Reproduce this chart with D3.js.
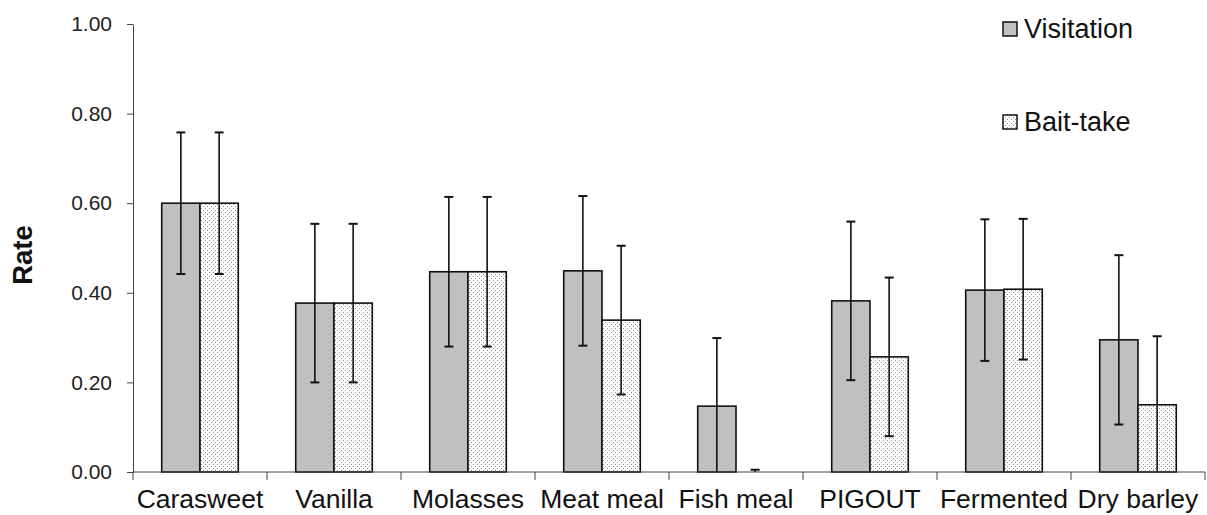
<!DOCTYPE html>
<html>
<head>
<meta charset="utf-8">
<script src="https://cdn.jsdelivr.net/npm/d3@7"></script>
<style>
  html, body { margin: 0; padding: 0; background: #fff; }
  svg { display: block; font-family: "Liberation Sans", Arial, sans-serif; }
</style>
</head>
<body>
<svg id="chart" width="1207" height="515"></svg>
<script>
// Attractant categories
const categories = ["Carasweet", "Vanilla", "Molasses", "Meat meal", "Fish meal", "PIGOUT", "Fermented", "Dry barley"];
const seriesNames = ["Visitation", "Bait-take"];

// Mean rates and error half-widths per series
const visitation    = [0.600, 0.377, 0.447, 0.449, 0.147, 0.382, 0.406, 0.295];
const visitationErr = [0.158, 0.177, 0.167, 0.167, 0.152, 0.177, 0.158, 0.189];
const baitTake      = [0.600, 0.377, 0.447, 0.339, 0.000, 0.257, 0.408, 0.150];
const baitTakeErr   = [0.158, 0.177, 0.167, 0.166, 0.005, 0.177, 0.157, 0.153];

const yTicks = [0, 0.2, 0.4, 0.6, 0.8, 1.0];

const svg = d3.select("#chart");

const plot = { left: 133, right: 1205, top: 24, bottom: 472 };

// Dotted fill for the second series
const defs = svg.append("defs");
const pat = defs.append("pattern")
  .attr("id", "dots")
  .attr("patternUnits", "userSpaceOnUse")
  .attr("width", 4).attr("height", 4);
pat.append("rect").attr("width", 4).attr("height", 4).attr("fill", "#fff");
pat.append("rect").attr("x", 0).attr("y", 0).attr("width", 1).attr("height", 1).attr("fill", "#8a8a8a");
pat.append("rect").attr("x", 2).attr("y", 2).attr("width", 1).attr("height", 1).attr("fill", "#8a8a8a");

const fills = { "Visitation": "#c0c0c0", "Bait-take": "url(#dots)" };

const x = d3.scaleBand().domain(categories).range([plot.left, plot.right]);
const bw = x.bandwidth();
const groupW = bw * 2 / 3.5;
const xs = d3.scaleBand().domain(seriesNames)
  .range([(bw - groupW) / 2, (bw + groupW) / 2]);
const y = d3.scaleLinear().domain([0, 1]).range([plot.bottom, plot.top]);

const rows = categories.map((c, i) => ({
  cat: c,
  vals: [
    { s: "Visitation", v: visitation[i], e: visitationErr[i] },
    { s: "Bait-take", v: baitTake[i], e: baitTakeErr[i] }
  ]
}));

// Bars
const groups = svg.append("g").selectAll("g").data(rows).join("g")
  .attr("transform", d => `translate(${x(d.cat)},0)`);

groups.selectAll("rect.bar").data(d => d.vals.filter(v => v.v > 0)).join("rect")
  .attr("class", "bar")
  .attr("x", d => xs(d.s))
  .attr("width", xs.bandwidth())
  .attr("y", d => y(d.v))
  .attr("height", d => y(0) - y(d.v))
  .attr("fill", d => fills[d.s])
  .attr("stroke", "#111")
  .attr("stroke-width", 1.6);

// Error bars (lower end clipped at the axis)
const eb = groups.selectAll("g.err").data(d => d.vals).join("g")
  .attr("class", "err")
  .attr("transform", d => `translate(${xs(d.s) + xs.bandwidth() / 2},0)`)
  .attr("stroke", "#111").attr("stroke-width", 1.6);
eb.append("line")
  .attr("y1", d => y(d.v + d.e))
  .attr("y2", d => y(Math.max(0, d.v - d.e)));
eb.append("line")
  .attr("x1", -4.5).attr("x2", 4.5)
  .attr("y1", d => y(d.v + d.e)).attr("y2", d => y(d.v + d.e))
  .attr("stroke-width", 2);
eb.filter(d => d.v - d.e > 0).append("line")
  .attr("x1", -4.5).attr("x2", 4.5)
  .attr("y1", d => y(d.v - d.e)).attr("y2", d => y(d.v - d.e))
  .attr("stroke-width", 2);

// Y axis
const yAxis = svg.append("g")
  .attr("transform", `translate(${plot.left},0)`)
  .call(d3.axisLeft(y).tickValues(yTicks).tickFormat(d3.format(".2f")).tickSize(6).tickSizeOuter(0).tickPadding(15));
yAxis.select(".domain").attr("stroke", "#444");
yAxis.selectAll(".tick line").attr("stroke", "#444");
yAxis.selectAll(".tick text")
  .attr("font-size", 21)
  .attr("fill", "#222")
  .attr("font-family", "Liberation Sans, Arial, sans-serif");

// X axis with boundary ticks between categories
const xAxis = svg.append("g").attr("transform", `translate(0,${plot.bottom})`);
xAxis.append("line")
  .attr("x1", plot.left).attr("x2", plot.right)
  .attr("stroke", "#444");
const bounds = categories.map(c => x(c)).concat([plot.right]);
xAxis.selectAll("line.b").data(bounds).join("line")
  .attr("class", "b")
  .attr("x1", d => d).attr("x2", d => d)
  .attr("y1", 0).attr("y2", 8)
  .attr("stroke", "#444");
xAxis.selectAll("text").data(categories).join("text")
  .attr("x", d => x(d) + bw / 2)
  .attr("y", 36)
  .attr("text-anchor", "middle")
  .attr("font-size", 26.5)
  .attr("fill", "#111")
  .text(d => d);

// Y axis title
svg.append("text")
  .attr("transform", `translate(32,255) rotate(-90)`)
  .attr("text-anchor", "middle")
  .attr("font-size", 27.5)
  .attr("font-weight", "bold")
  .attr("fill", "#111")
  .text("Rate");

// Legend
const legend = svg.append("g");
const legendRows = [
  { s: "Visitation", yTop: 22 },
  { s: "Bait-take", yTop: 115 }
];
const li = legend.selectAll("g").data(legendRows).join("g")
  .attr("transform", d => `translate(1003,${d.yTop})`);
li.append("rect")
  .attr("width", 14).attr("height", 14)
  .attr("fill", d => fills[d.s])
  .attr("stroke", "#111").attr("stroke-width", 1.5);
li.append("text")
  .attr("x", 21).attr("y", 15.5)
  .attr("font-size", 27)
  .attr("fill", "#111")
  .text(d => d.s);
</script>
</body>
</html>
